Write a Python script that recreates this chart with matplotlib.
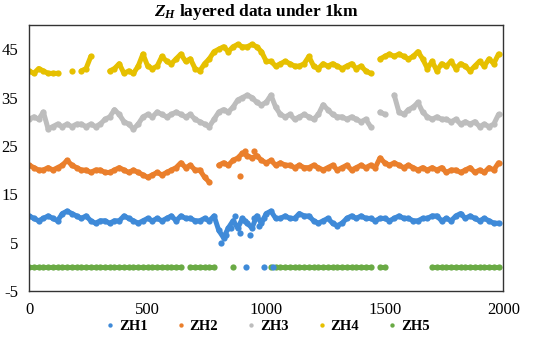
import numpy as np
import matplotlib
matplotlib.use('Agg')
import matplotlib.pyplot as plt

# 数据：每隔20取一个点，nan表示缺测
x = np.arange(0, 2000, 20)
nan = np.nan

zh1 = [10.5, 10, 9.5, 10, 10.5, 10, 9.5, 11, 11.5, 11,
       10.5, 10, 10.5, 9.5, 9, 9.5, 9.5, 9, 9.5, 9.5,
       10.5, 10, 9.5, 9, 9.5, 10, 9.5, 10, 9.5, 10,
       10.5, 9.5, 10.5, 10, 10, 9.5, 9.5, 10, 9.5, 10.5,
       7.5, 6, 8, 9.5, 8, 10, 9, 8, 10.5, 9,
       11, 11.5, 10, 10, 10.5, 10, 10, 11, 10.5, 10.5,
       9.5, 9, 9.5, 10, 9, 8.5, 9, 10, 10.5, 10,
       10.5, 10, 10, 9.5, 10, 10, 9.5, 10, 10.5, 10,
       10, 9.5, 9.5, 10, 10, 10.5, 10.5, 9.5, 10, 9.5,
       10.5, 11, 10, 10.5, 10, 9.5, 10, 9.5, 9, 9]
# 800-1000之间比较散的点，以及落在0上的几个点
zh1_extra_x = [810, 830, 850, 870, 890, 910, 930, 950, 970, 990, 915, 990, 1030]
zh1_extra_y = [5, 6.5, 8, 10.5, 7, 9.5, 6.5, 10, 8.5, 10, 0, 0, 0]

zh2 = [21, 20.5, 20, 20, 20.5, 20, 20.5, 21, 22, 21,
       20.5, 20, 20, 19.5, 20, 20, 19.5, 19.5, 20, 20.5,
       20, 19.5, 20, 19.5, 19, 18.5, 19, 19.5, 19, 19.5,
       20, 20.5, 21.5, 20.5, 21, 20, 20, 18.5, 17.5, nan,
       21, 21.5, 21, 22, 22.5, 23.5, 23, 22.5, 23, 22,
       21.5, 22, 21, 21.5, 21, 21, 20.5, 21, 20.5, 20.5,
       21, 20.5, 20, 20.5, 21, 20, 20.5, 21, 20, 20.5,
       21, 20.5, 21, 20.5, 22.5, 21.5, 21, 21.5, 21, 20.5,
       21, 20.5, 20, 20.5, 20, 20.5, 20, 20.5, 19.5, 20,
       20, 19.5, 20, 20.5, 19.5, 20, 19.5, 20.5, 20, 21.5]
zh2_extra_x = [890, 910, 950]
zh2_extra_y = [18.7, 24, 24]

zh3 = [30.5, 31, 30.5, 32, 28.5, 29, 29.5, 29, 29.5, 29,
       29.5, 29.5, 29, 29.5, 29, 29.5, 30.5, 31, 32.5, 31.5,
       30, 29.5, 28.5, 29.5, 31, 31.5, 31, 32, 31.5, 31,
       31.5, 32, 31.5, 31, 31.5, 30.5, 30, 29.5, 29, 30.5,
       32, 32.5, 32, 33, 34.5, 35, 35.5, 35, 34, 33.5,
       34, 35.5, 33, 31.5, 31, 31.5, 30.5, 31, 31.5, 31,
       30.5, 31.5, 33.5, 32.5, 31.5, 31, 31, 30.5, 31, 30.5,
       30, 30.5, 29, nan, 32, 31.5, nan, 35.5, 32, 31.5,
       32.5, 33, 34, 32, 31, 30.5, 31, 30.5, 30.5, 30,
       30.5, 29.5, 30, 29.5, 30, 29, 29.5, 29, 29.5, 31.5]

zh4 = [40.5, 40, 41, 40.5, 40, 40, 40, nan, nan, 40.5,
       nan, 40.5, 41, 43.5, nan, nan, nan, 40.5, 41, 42,
       40, 40.5, 40, 41.5, 44, 41.5, 41, 41.5, 43.5, 42.5,
       42, 43, 44, 42.5, 43, 41, 40.5, 42, 43, 44.5,
       45, 45.5, 44.5, 45.5, 46, 45.5, 45.5, 46, 45.5, 44.5,
       42.5, 42.5, 41.5, 42, 42.5, 42, 41.5, 41.5, 42, 43.5,
       41.5, 41, 42, 41.5, 42, 41.5, 41, 41.5, 42, 41,
       41.5, 40.5, 40, nan, 43, 43.5, 44, 43.5, 44, 43.5,
       43, 43.5, 44.5, 43, 41, 42.5, 40.5, 42, 41.5, 42.5,
       41, 42, 41.5, 40.5, 41.5, 42.5, 41.5, 43, 42, 44]

# ZH5：0值，有若干缺测段
zh5 = [0] * 33 + [nan] + [0] * 6 + [nan] * 3 + [0] + [nan] * 7 + \
      [0] * 22 + [nan] + [0] * 2 + [nan] * 9 + [0] * 15

names = ['ZH1', 'ZH2', 'ZH3', 'ZH4', 'ZH5']
colors = ['#3f8ad8', '#ea7f2c', '#bdbdbd', '#e6c000', '#6aaa45']

plt.rcParams['font.family'] = ['Liberation Serif', 'DejaVu Serif']
plt.rcParams['axes.unicode_minus'] = False
plt.rcParams['mathtext.fontset'] = 'custom'
plt.rcParams['mathtext.rm'] = 'Liberation Serif'
plt.rcParams['mathtext.it'] = 'Liberation Serif:italic'
plt.rcParams['mathtext.bf'] = 'Liberation Serif:bold'
plt.rcParams['mathtext.bfit'] = 'Liberation Serif:italic:bold'

fig = plt.figure(figsize=(5.5, 3.43), dpi=100)
ax = fig.add_axes([0.053, 0.152, 0.862, 0.775])

series = [zh1, zh2, zh3, zh4, zh5]
for name, ys, c in zip(names, series, colors):
    # 点很密，用粗线把相邻点连起来，看起来像原图的点带
    ax.plot(x, ys, '-', lw=3.6, color=c, solid_capstyle='round')
    ax.plot(x, ys, 'o', ms=4.5, mew=0, color=c, label=name)
ax.plot(zh1_extra_x, zh1_extra_y, 'o', ms=4.5, mew=0, color=colors[0])
ax.plot(zh2_extra_x, zh2_extra_y, 'o', ms=4.5, mew=0, color=colors[1])

ax.set_xlim(0, 2000)
ax.set_ylim(-5, 50)
ax.set_xticks([0, 500, 1000, 1500, 2000])
ax.set_yticks([-5, 5, 15, 25, 35, 45])
ax.tick_params(axis='both', length=0, labelsize=12)
ax.tick_params(axis='x', pad=8)
ax.tick_params(axis='y', pad=8)
for sp in ax.spines.values():
    sp.set_color('#333333')
    sp.set_linewidth(1.0)

fig.text(0.467, 0.965, r'$\mathbfit{Z_H}$ layered data under 1km',
         ha='center', va='center', fontsize=12.5, fontweight='bold')

leg = fig.legend(loc='center', bbox_to_anchor=(0.487, 0.047), ncol=5,
                 frameon=False, markerscale=0.7, handlelength=0.6,
                 handletextpad=0.3, columnspacing=1.97,
                 prop={'weight': 'bold', 'size': 10.5})

fig.savefig('out.png', dpi=100)
